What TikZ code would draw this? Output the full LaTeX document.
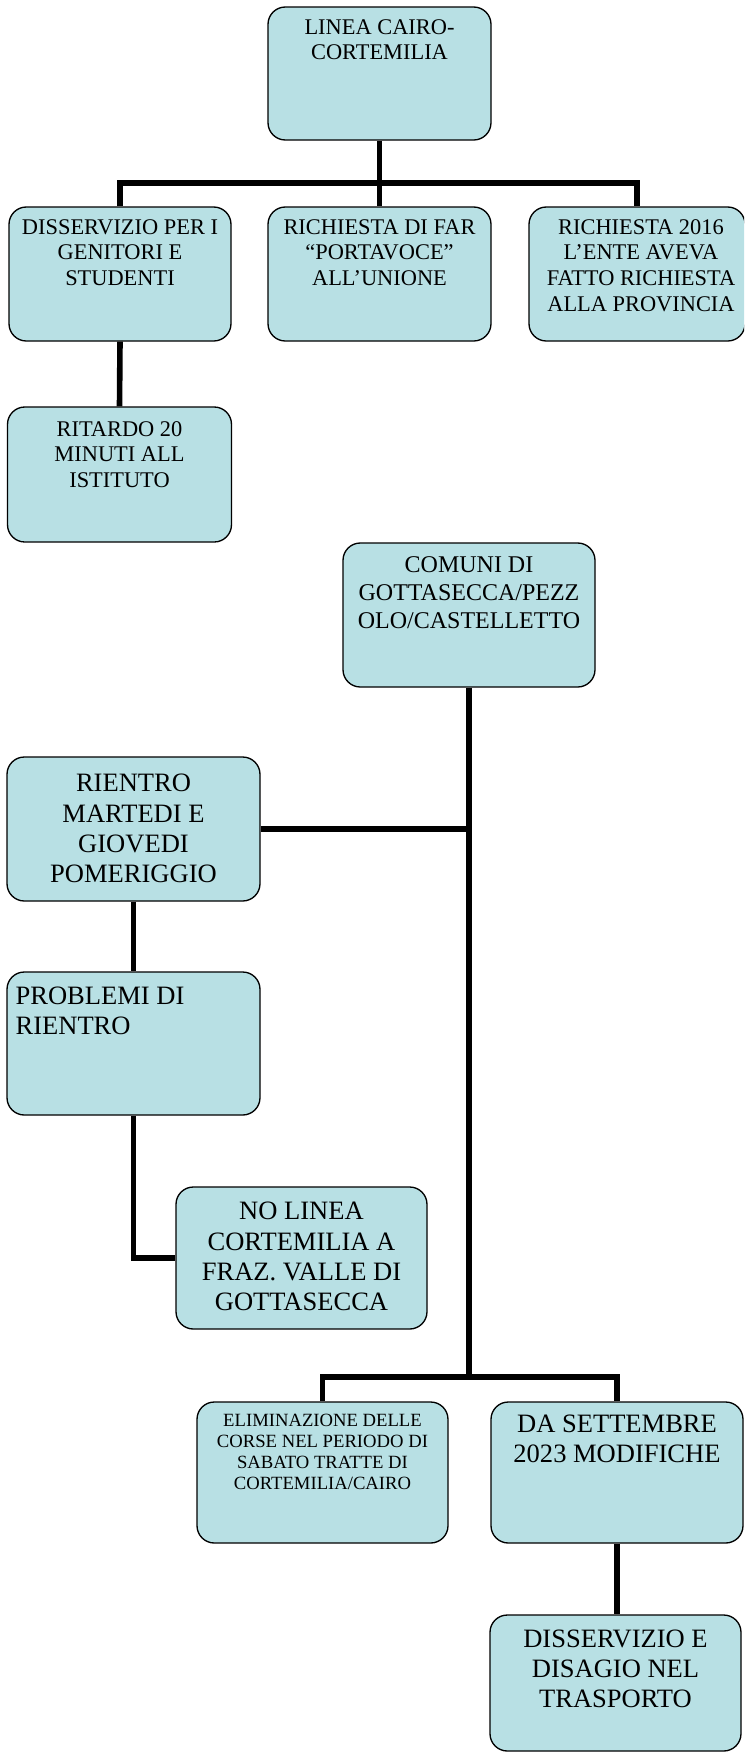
\documentclass[tikz,border=0pt]{standalone}
\usepackage{fontspec}
\setmainfont{Liberation Serif}
\usetikzlibrary{calc}
\definecolor{boxblue}{HTML}{B8E0E4}
\tikzset{
  orgbox/.style={draw=black, line width=1pt, fill=boxblue, rounded corners=13pt, inner sep=0pt},
  conn/.style={draw=black, line width=4.2pt},
  fa/.style={font={\fontsize{16.8}{19.2}\selectfont}, align=center, anchor=base, inner sep=0pt},
  fb/.style={font={\fontsize{18}{21}\selectfont}, align=center, anchor=base, inner sep=0pt},
  fc/.style={font={\fontsize{19.9}{22.6}\selectfont}, align=center, anchor=base, inner sep=0pt},
  fd/.style={font={\fontsize{14}{15.75}\selectfont}, align=center, anchor=base, inner sep=0pt},
}
\begin{document}
\begin{tikzpicture}[x=0.75pt, y=-0.75pt]
\useasboundingbox (0,0) rectangle (744,1753);
\begin{scope}
\clip (0,0) rectangle (744,1753);
% boxes
\node[orgbox, minimum width=167.25pt, minimum height=99.75pt] (A) at (379.5,73.5) {};
\node[orgbox, minimum width=166.5pt, minimum height=100.5pt] (B1) at (120,274) {};
\node[orgbox, minimum width=167.25pt, minimum height=100.5pt] (B2) at (379.5,274) {};
\node[orgbox, minimum width=162pt, minimum height=100.5pt] (B3) at (637,274) {};
\node[orgbox, minimum width=168pt, minimum height=101.25pt] (C) at (119.5,474.5) {};
\node[orgbox, minimum width=189pt, minimum height=108pt] (D) at (469,615) {};
\node[orgbox, minimum width=189.75pt, minimum height=108pt] (E) at (133.5,829) {};
\node[orgbox, minimum width=189.75pt, minimum height=107.25pt] (F) at (133.5,1043.5) {};
\node[orgbox, minimum width=188.25pt, minimum height=106.5pt] (G) at (301.5,1258) {};
\node[orgbox, minimum width=188.25pt, minimum height=105.75pt] (H) at (322.5,1472.5) {};
\node[orgbox, minimum width=189pt, minimum height=105.75pt] (I) at (617,1472.5) {};
\node[orgbox, minimum width=188.25pt, minimum height=102pt] (J) at (615.5,1683) {};
% texts (anchored at the baseline of the last line)
\node[fa] (tA) at ($(A.north)+(0,53.6)$) {LINEA CAIRO-\\CORTEMILIA};
\node[fa] (tB1) at ($(B1.north)+(0,79.2)$) {DISSERVIZIO PER I\\GENITORI E\\STUDENTI};
\node[fa] (tB2) at ($(B2.north)+(0,79.2)$) {RICHIESTA DI FAR\\“PORTAVOCE”\\ALL’UNIONE};
\node[fa] (tB3) at ($(B3.north)+(4,104.8)$) {RICHIESTA 2016\\L’ENTE AVEVA\\FATTO RICHIESTA\\ALLA PROVINCIA};
\node[fa] (tC) at ($(C.north)+(0,81.2)$) {RITARDO 20\\MINUTI ALL\\ISTITUTO};
\node[fb] (tD) at ($(D.north)+(0,86)$) {COMUNI DI\\GOTTASECCA/PEZZ\\OLO/CASTELLETTO};
\node[fc] (tE) at ($(E.north)+(0,126)$) {RIENTRO\\MARTEDI E\\GIOVEDI\\POMERIGGIO};
\node[fc, align=left, anchor=base west] (tF) at ($(F.north west)+(9,63)$) {PROBLEMI DI\\RIENTRO};
\node[fc] (tG) at ($(G.north)+(0,124)$) {NO LINEA\\CORTEMILIA A\\FRAZ. VALLE DI\\GOTTASECCA};
\node[fd] (tH) at ($(H.north)+(0,88)$) {ELIMINAZIONE DELLE\\CORSE NEL PERIODO DI\\SABATO TRATTE DI\\CORTEMILIA/CAIRO};
\node[fc] (tI) at ($(I.north)+(0,61)$) {DA SETTEMBRE\\2023 MODIFICHE};
\node[fc] (tJ) at ($(J.north)+(0,93)$) {DISSERVIZIO E\\DISAGIO NEL\\TRASPORTO};
% junction coordinates
\coordinate (j1) at (379.5,183);
\coordinate (j2) at (469,829);
\coordinate (j3) at (469,1377);
% connectors
\draw[conn] (A.south) -- (j1);
\draw[conn] (B1.north) |- (j1) -| (B3.north);
\draw[conn] (j1) -- (B2.north);
\draw[conn] (B1.south) -- (C.north);
\draw[conn] (D.south) -- (j3);
\draw[conn] (E.east) -- (j2);
\draw[conn] (H.north) |- (j3) -| (I.north);
\draw[conn] (E.south) -- (F.north);
\draw[conn] (F.south) |- (G.west);
\draw[conn] (I.south) -- (I.south |- J.north);
\end{scope}
\end{tikzpicture}
\end{document}
